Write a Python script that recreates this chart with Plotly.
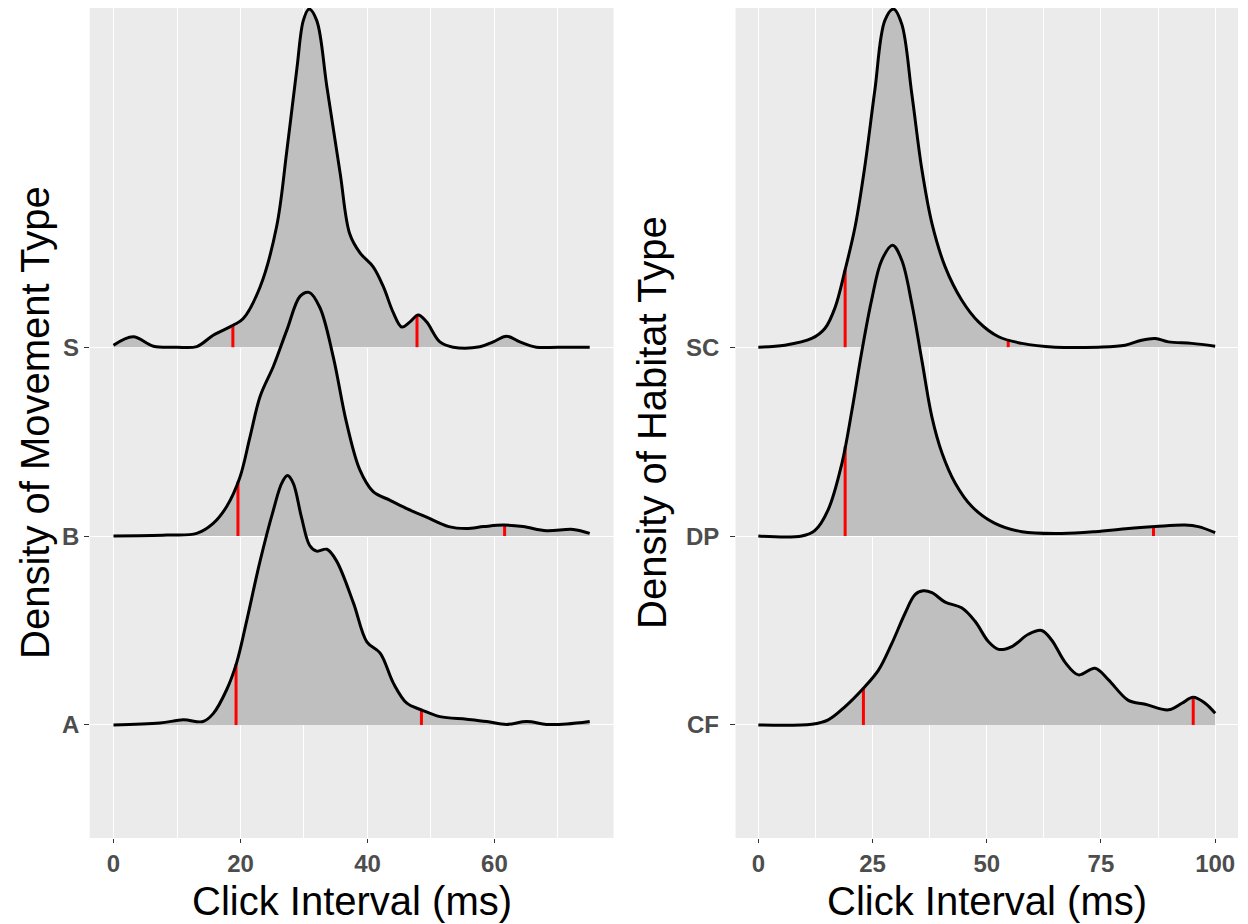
import numpy as np
import plotly.graph_objects as go

# ---------------- data ----------------
movement_types = ["A", "B", "S"]
habitat_types = ["CF", "DP", "SC"]

s_x = [0, 3.1, 6.3, 10, 13.1, 15.7, 18.9, 20.4, 23.1, 25.7, 27.3, 28.9, 29.9, 30.8, 32, 33.6,
       35.7, 37.2, 38.8, 40.9, 42.5, 44.1, 45.4, 46.7, 48.0, 49.3, 51.4, 53.5, 57.7, 59.8,
       61.9, 64, 66.6, 70, 75]
s_h = [0.01, 0.055, 0.005, 0, 0.003, 0.063, 0.117, 0.15, 0.32, 0.64, 1.04, 1.48, 1.73, 1.79,
       1.73, 1.38, 0.92, 0.60, 0.50, 0.425, 0.32, 0.18, 0.107, 0.134, 0.17, 0.134, 0.028, 0,
       0.002, 0.028, 0.058, 0.028, 0, 0, 0]

b_x = [0, 8.4, 13.1, 15.7, 17.8, 19.9, 21.5, 23.1, 25.2, 27.3, 29.4, 30.8, 32.5, 34.6, 36.7,
       38.8, 40.9, 43.5, 46.1, 49.3, 52.8, 55.6, 58.3, 61.4, 64.5, 68.2, 72.4, 75]
b_h = [0, 0.005, 0.014, 0.067, 0.155, 0.31, 0.525, 0.74, 0.90, 1.09, 1.27, 1.29, 1.21, 0.95,
       0.60, 0.35, 0.235, 0.19, 0.147, 0.10, 0.05, 0.04, 0.05, 0.058, 0.05, 0.028, 0.035, 0.014]

a_x = [0, 7.3, 11, 14.1, 15.7, 17.8, 19.4, 21, 23.1, 25.2, 26.5, 27.4, 28.3, 29.6, 30.9, 32,
       33.6, 35.1, 37.8, 39.9, 42, 44.1, 46.2, 48.5, 51.4, 55.6, 58.8, 61.9, 65.1, 68.2, 71.4, 75]
a_h = [0, 0.01, 0.027, 0.018, 0.06, 0.185, 0.33, 0.555, 0.87, 1.14, 1.28, 1.32, 1.28, 1.10,
       0.95, 0.92, 0.93, 0.87, 0.645, 0.44, 0.38, 0.22, 0.115, 0.08, 0.044, 0.03, 0.018, 0.003,
       0.018, 0.003, 0.005, 0.018]

sc_x = [0, 5.8, 11.7, 14.6, 16.8, 19, 21.2, 23.3, 25.5, 27.7, 29.6, 31.4, 33.6, 35.8, 38,
        40.9, 44.5, 48.2, 52.6, 57.7, 65, 74.4, 80.3, 83.9, 86.9, 89.8, 94.9, 100]
sc_h = [0, 0.01, 0.046, 0.10, 0.21, 0.41, 0.64, 0.955, 1.36, 1.73, 1.79, 1.71, 1.34, 0.94,
        0.655, 0.425, 0.25, 0.134, 0.055, 0.02, 0, 0, 0.01, 0.037, 0.046, 0.028, 0.02, 0.005]

dp_x = [0, 9.5, 12.4, 15.3, 18.3, 20.5, 22.6, 24.8, 27, 29.4, 31.4, 33.6, 35.8, 38, 40.2,
        43.1, 46.8, 51.8, 57.7, 66.4, 73.7, 81, 86.9, 93.4, 96.3, 100]
dp_h = [0, 0, 0.03, 0.14, 0.385, 0.667, 0.97, 1.25, 1.46, 1.54, 1.46, 1.23, 0.93, 0.63, 0.44,
        0.28, 0.155, 0.067, 0.023, 0.014, 0.023, 0.04, 0.05, 0.058, 0.05, 0.018]

cf_x = [0, 11.7, 15.3, 19, 23, 26.3, 29.2, 32.1, 34.3, 36.1, 38, 40.9, 44.5, 47.4, 50.4, 52.6,
        55.5, 59.1, 62, 64.2, 67.2, 70.1, 73.7, 76.6, 81, 84.7, 89.8, 92.7, 95.2, 97.8, 100]
cf_h = [0, 0.004, 0.027, 0.097, 0.194, 0.29, 0.43, 0.59, 0.69, 0.71, 0.70, 0.65, 0.62, 0.55,
        0.44, 0.40, 0.415, 0.48, 0.50, 0.45, 0.33, 0.265, 0.30, 0.24, 0.13, 0.11, 0.08, 0.115,
        0.147, 0.115, 0.062]

# quantile lines (red)
s_q = [18.8, 47.8]
b_q = [19.6, 61.6]
a_q = [19.3, 48.5]
sc_q = [19.0, 54.7]
dp_q = [19.0, 86.5]
cf_q = [23.0, 95.2]

left_ticks = [0, 20, 40, 60]
left_minor = [10, 30, 50, 70]
right_ticks = [0, 25, 50, 75, 100]
right_minor = [12.5, 37.5, 62.5, 87.5]

x_title = "Click Interval (ms)"
left_y_title = "Density of Movement Type"
right_y_title = "Density of Habitat Type"

# ---------------- styling ----------------
FILL = "rgb(191,191,191)"
PANEL = "#EBEBEB"
FONT = "Liberation Sans"
TICKCOL = "#4D4D4D"
SMOOTH = 1.0

fig = go.Figure()


def add_ridge(xs, hs, base, qs, xa, ya):
    xs = list(xs)
    ys = [base + h for h in hs]
    fig.add_trace(go.Scatter(x=xs, y=[base] * len(xs), mode="lines",
                             line=dict(width=0, color="rgba(0,0,0,0)"),
                             hoverinfo="skip", xaxis=xa, yaxis=ya))
    fig.add_trace(go.Scatter(x=xs, y=ys, mode="lines", fill="tonexty", fillcolor=FILL,
                             line=dict(width=0, color=FILL, shape="spline", smoothing=SMOOTH),
                             hoverinfo="skip", xaxis=xa, yaxis=ya))
    qx, qy = [], []
    for q in qs:
        top = base + float(np.interp(q, xs, hs))
        qx += [q, q, None]
        qy += [base, top, None]
    fig.add_trace(go.Scatter(x=qx, y=qy, mode="lines",
                             line=dict(color="#FF0000", width=3),
                             hoverinfo="skip", xaxis=xa, yaxis=ya))
    fig.add_trace(go.Scatter(x=xs, y=ys, mode="lines",
                             line=dict(color="black", width=3, shape="spline", smoothing=SMOOTH),
                             hoverinfo="skip", xaxis=xa, yaxis=ya))


# draw from top ridge down so lower ridges overlay
add_ridge(s_x, s_h, 3, s_q, "x", "y")
add_ridge(b_x, b_h, 2, b_q, "x", "y")
add_ridge(a_x, a_h, 1, a_q, "x", "y")
add_ridge(sc_x, sc_h, 3, sc_q, "x2", "y2")
add_ridge(dp_x, dp_h, 2, dp_q, "x2", "y2")
add_ridge(cf_x, cf_h, 1, cf_q, "x2", "y2")

W, H = 1248, 924
ydom = [(H - 838) / H, (H - 8) / H]
ltop = [89.7 / W, 613.5 / W]
rdom = [735.5 / W, 1238 / W]

tickfont = dict(family=FONT, size=24, color=TICKCOL, weight="bold")


def xaxis_cfg(dom, rng, ticks, minor, anchor):
    return dict(domain=dom, range=rng, anchor=anchor, tickvals=ticks,
                ticktext=[str(t) for t in ticks], tickfont=tickfont,
                ticks="outside", ticklen=4, tickwidth=1.2, tickcolor="#333333",
                ticklabelstandoff=0,
                showgrid=True, gridcolor="white", gridwidth=1.3, zeroline=False,
                showline=False, fixedrange=True,
                minor=dict(tickvals=minor, showgrid=True, gridcolor="white",
                           gridwidth=0.6, ticks=""))


def yaxis_cfg(dom, anchor):
    return dict(domain=dom, range=[0.4015, 4.7955], anchor=anchor, tickvals=[1, 2, 3],
                showticklabels=False,
                ticks="outside", ticklen=5, tickwidth=1.2, tickcolor="#333333",
                showgrid=True, gridcolor="white", gridwidth=1.3, zeroline=False,
                showline=False, fixedrange=True)


fig.update_layout(
    width=W, height=H,
    margin=dict(l=0, r=0, t=0, b=0),
    paper_bgcolor="white", plot_bgcolor=PANEL,
    showlegend=False,
    xaxis=xaxis_cfg(ltop, [-3.75, 78.75], left_ticks, left_minor, "y"),
    yaxis=yaxis_cfg(ydom, "x"),
    xaxis2=xaxis_cfg(rdom, [-5, 105], right_ticks, right_minor, "y2"),
    yaxis2=yaxis_cfg(ydom, "x2"),
)

# category (y tick) labels as annotations placed at the category positions
for i, lab in enumerate(movement_types):
    fig.add_annotation(xref="paper", yref="y", x=80 / W, y=i + 1, text=lab,
                       showarrow=False, xanchor="right", yanchor="middle",
                       font=tickfont, borderpad=0)
for i, lab in enumerate(habitat_types):
    fig.add_annotation(xref="paper", yref="y2", x=720 / W, y=i + 1, text=lab,
                       showarrow=False, xanchor="right", yanchor="middle",
                       font=tickfont, borderpad=0)

title_font = dict(family=FONT, size=40, color="black")
annos = [
    dict(text=x_title, x=(ltop[0] + ltop[1]) / 2, y=(H - 901) / H),
    dict(text=x_title, x=(rdom[0] + rdom[1]) / 2, y=(H - 901) / H),
    dict(text=left_y_title, x=35 / W, y=(ydom[0] + ydom[1]) / 2, textangle=-90),
    dict(text=right_y_title, x=652 / W, y=(ydom[0] + ydom[1]) / 2, textangle=-90),
]
for a in annos:
    fig.add_annotation(xref="paper", yref="paper", showarrow=False, font=title_font,
                       xanchor="center", yanchor="middle", borderpad=0, **a)

fig.write_html("out.html")
